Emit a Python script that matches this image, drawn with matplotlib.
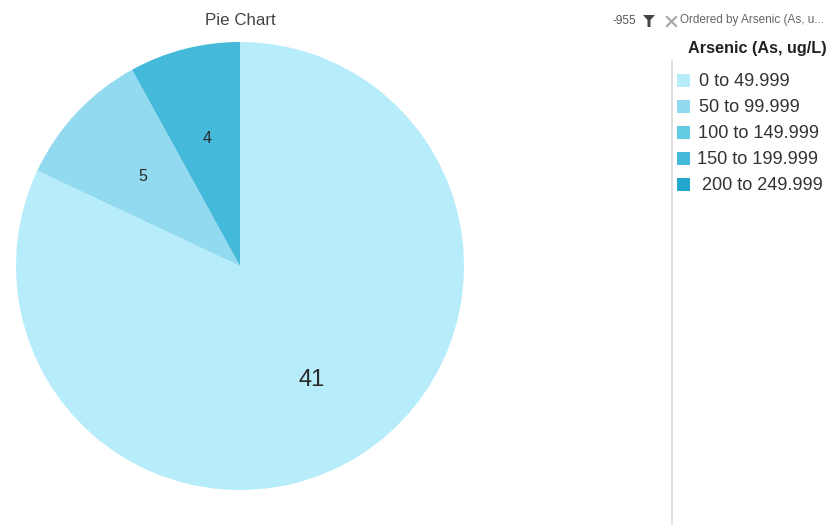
import matplotlib
matplotlib.use('Agg')
import matplotlib.pyplot as plt
from matplotlib.patches import Polygon, Rectangle

plt.rcParams['font.family'] = ['Liberation Sans', 'DejaVu Sans']

categories = ['0 to 49.999', '50 to 99.999', '100 to 149.999', '150 to 199.999', '200 to 249.999']
counts = [41, 5, 0, 4, 0]
colors = ['#b7ecfa', '#92daf0', '#63cbe4', '#45b9da', '#22a8cc']
label_sizes = {41: 17, 5: 11.5, 4: 11.5}
total = sum(counts)


def show_count(pct):
    value = int(round(pct * total / 100.0))
    return str(value) if value > 0 else ''


W, H = 829, 525
fig = plt.figure(figsize=(W / 100, H / 100), dpi=100, facecolor='white')

# pie box in pixels
px, py, size = 16, 42, 448
ax = fig.add_axes([px / W, 1 - (py + size) / H, size / W, size / H])
wedges, texts, autotexts = ax.pie(counts, colors=colors, startangle=90, counterclock=False,
                                  radius=1, autopct=show_count, pctdistance=0.595,
                                  wedgeprops={'linewidth': 0})
for t in autotexts:
    if t.get_text():
        t.set_fontsize(label_sizes[int(t.get_text())])
        t.set_color('#2a2a2a')
        # labels sit a little lower in the original
        x, y = t.get_position()
        t.set_position((x, y - 1.5 / (size / 2)))
ax.set_xlim(-1, 1)
ax.set_ylim(-1, 1)

# overlay in pixel coordinates for title and legend panel
ov = fig.add_axes([0, 0, 1, 1], facecolor='none')
ov.set_xlim(0, W)
ov.set_ylim(H, 0)
ov.axis('off')

ov.text(240, 20.5, 'Pie Chart', ha='center', va='center', fontsize=12.2, color='#444444')

ov.text(624.5, 20.5, '-955', ha='center', va='center', fontsize=8.5, color='#555555')
ov.add_patch(Polygon([(643, 15), (655, 15), (650.5, 20), (650.5, 27), (647.5, 27), (647.5, 20)],
                     closed=True, facecolor='#444444', edgecolor='none'))
ov.plot([667, 676], [17, 26], color='#aaaaaa', lw=1.6)
ov.plot([667, 676], [26, 17], color='#aaaaaa', lw=1.6)
ov.text(680, 20.5, 'Ordered by Arsenic (As, u...', ha='left', va='center', fontsize=8.5, color='#666666')

ov.text(757, 48.5, 'Arsenic (As, ug/L)', ha='center', va='center', fontsize=11.7,
        fontweight='bold', color='#222222')
ov.plot([672, 672], [60, H], color='#d8d8d8', lw=1.2)

# legend rows, label starts differ row to row in the original
label_x = [699, 699, 698, 697, 702]
for i, cat in enumerate(categories):
    y = 80 + i * 26
    ov.add_patch(Rectangle((677, y - 6.5), 13, 13, facecolor=colors[i], edgecolor='none'))
    ov.text(label_x[i], y + 1, cat, ha='left', va='center', fontsize=13.1, color='#333333')

plt.savefig('out.png', dpi=100)
